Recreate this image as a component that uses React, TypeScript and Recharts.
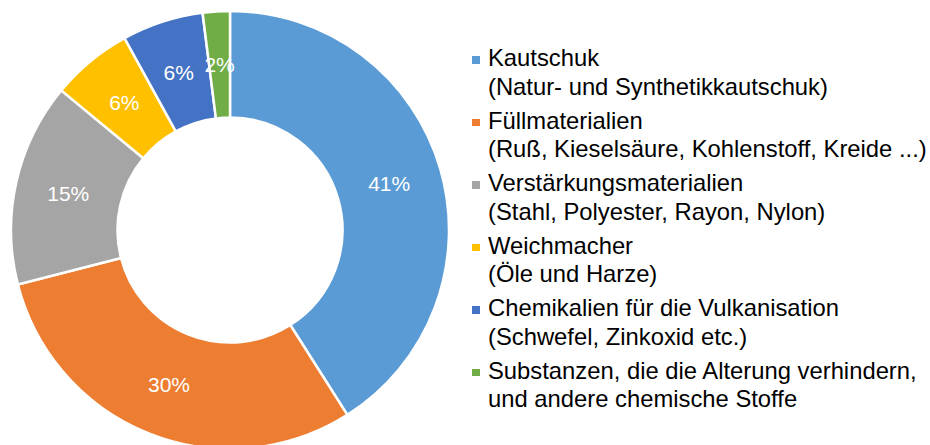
import React from 'react';
import { PieChart, Pie, Cell, Legend } from 'recharts';

const names = [
  'Kautschuk',
  'Füllmaterialien',
  'Verstärkungsmaterialien',
  'Weichmacher',
  'Chemikalien für die Vulkanisation',
  'Substanzen, die die Alterung verhindern,',
];
const details = [
  '(Natur- und Synthetikkautschuk)',
  '(Ruß, Kieselsäure, Kohlenstoff, Kreide ...)',
  '(Stahl, Polyester, Rayon, Nylon)',
  '(Öle und Harze)',
  '(Schwefel, Zinkoxid etc.)',
  'und andere chemische Stoffe',
];
const shares = [41, 30, 15, 6, 6, 2];
const colors = ['#5B9BD5', '#ED7D31', '#A5A5A5', '#FFC000', '#4472C4', '#70AD47'];

const data = names.map((name, i) => ({ name, value: shares[i] }));

const FONT = '"Liberation Sans", Arial, sans-serif';
const RAD = Math.PI / 180;

const renderLabel = (props: any) => {
  const { cx, cy, midAngle, innerRadius, outerRadius, value } = props;
  const r = (innerRadius + outerRadius) / 2;
  const x = cx + r * Math.cos(-midAngle * RAD);
  const y = cy + r * Math.sin(-midAngle * RAD);
  return (
    <text x={x} y={y} fill="#fff" fontSize={21} fontFamily={FONT} textAnchor="middle" dominantBaseline="central">
      {`${value}%`}
    </text>
  );
};

const renderLegend = (props: any) => {
  // keep the slice order, not the alphabetical one
  const items = [...(props.payload || [])].sort(
    (a: any, b: any) => names.indexOf(a.value) - names.indexOf(b.value)
  );
  return (
    <div style={{ fontFamily: FONT, fontSize: 23.8, lineHeight: '28.5px', color: '#000' }}>
      {items.map((entry: any) => {
        const i = names.indexOf(entry.value);
        return (
          <div key={`leg-${i}`} style={{ position: 'relative', paddingLeft: 18, marginBottom: 5.5 }}>
            <span
              style={{
                position: 'absolute',
                left: 2,
                top: 12,
                width: 7.5,
                height: 7.5,
                background: colors[i],
              }}
            />
            <div style={{ whiteSpace: 'nowrap' }}>{entry.value}</div>
            <div style={{ whiteSpace: 'nowrap' }}>{details[i]}</div>
          </div>
        );
      })}
    </div>
  );
};

export default function App() {
  return (
    <div style={{ position: 'absolute', left: 0, top: 0, background: '#fff' }}>
      <PieChart width={930} height={445} margin={{ top: 0, right: 0, bottom: 0, left: 0 }}>
        <Pie
          data={data}
          dataKey="value"
          nameKey="name"
          cx={230}
          cy={230}
          innerRadius={112.5}
          outerRadius={219}
          startAngle={90}
          endAngle={-270}
          stroke="#fff"
          strokeWidth={2.5}
          label={renderLabel}
          labelLine={false}
          isAnimationActive={false}
        >
          {data.map((entry, i) => (
            <Cell key={`cell-${i}`} fill={colors[i]} />
          ))}
        </Pie>
        <Legend
          layout="vertical"
          content={renderLegend}
          wrapperStyle={{ left: 470, top: 44, width: 460 }}
        />
      </PieChart>
    </div>
  );
}
